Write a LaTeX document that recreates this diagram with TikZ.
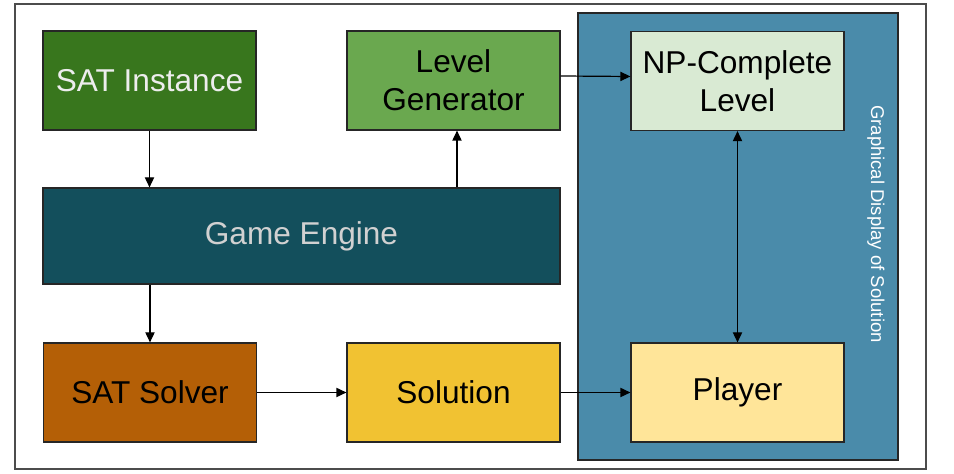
\documentclass[tikz,border=0pt]{standalone}
\usepackage{fontspec}
\setmainfont{Liberation Sans}
\usetikzlibrary{arrows.meta,positioning}
\definecolor{instgreen}{HTML}{38761D}
\definecolor{lvlgreen}{HTML}{6AA84F}
\definecolor{npgreen}{HTML}{D9EAD3}
\definecolor{enginecyan}{HTML}{134F5C}
\definecolor{solverbrown}{HTML}{B45F06}
\definecolor{solnyellow}{HTML}{F1C232}
\definecolor{playeryellow}{HTML}{FFE599}
\definecolor{panelblue}{HTML}{4A8BAA}

\begin{document}
\begin{tikzpicture}[x=0.5pt,y=-0.5pt,
  blk/.style={draw=black!85,line width=0.6pt,minimum width=106.5pt,minimum height=49.5pt,
    inner sep=0pt,align=center,font=\fontsize{15.8}{19}\selectfont},
  link/.style={-{Triangle[length=5pt,width=4.6pt]},line width=0.6pt}]
  \useasboundingbox (0,0) rectangle (954,474);
  % frame and display panel
  \draw[black!70,line width=0.7pt] (15,4) rectangle (926,469);
  \draw[black!85,line width=0.6pt,fill=panelblue] (578,13) rectangle (898,460);
  \node[white,rotate=-90,font=\fontsize{9.25}{11}\selectfont] (disp) at (876,224)
    {Graphical Display of Solution};
  % blocks
  \node[blk,fill=instgreen,text=black!7] (inst) at (149.5,80.5) {SAT Instance};
  \node[blk,fill=lvlgreen] (lvlgen) at (453.5,80.5) {Level\\Generator};
  \node[blk,fill=npgreen] (npl) at (737.5,81) {NP-Complete\\Level};
  \node[blk,fill=enginecyan,text=black!18,minimum width=258.5pt,minimum height=48pt]
    (engine) at (301.5,236) {Game Engine};
  \node[blk,fill=solverbrown] (solver) at (150,392.5) {SAT Solver};
  \node[blk,fill=solnyellow] (soln) at (453.5,392.5) {Solution};
  \node[blk,fill=playeryellow] (player) at (737.5,392.5) {Player};
  % connectors
  \draw[link] (inst) -- (inst |- engine.north);
  \draw[link] ([xshift=1.75pt]lvlgen.south |- engine.north) -- ([xshift=1.75pt]lvlgen.south);
  \draw[link] ([yshift=2.25pt]lvlgen.east) -- ([yshift=2.25pt]npl.west);
  \draw[link] (solver |- engine.south) -- (solver);
  \draw[link] (solver) -- (soln);
  \draw[link] (soln) -- (player);
  \draw[link,{Triangle[length=5pt,width=4.6pt]}-{Triangle[length=5pt,width=4.6pt]}]
    (npl) -- (player);
\end{tikzpicture}
\end{document}
